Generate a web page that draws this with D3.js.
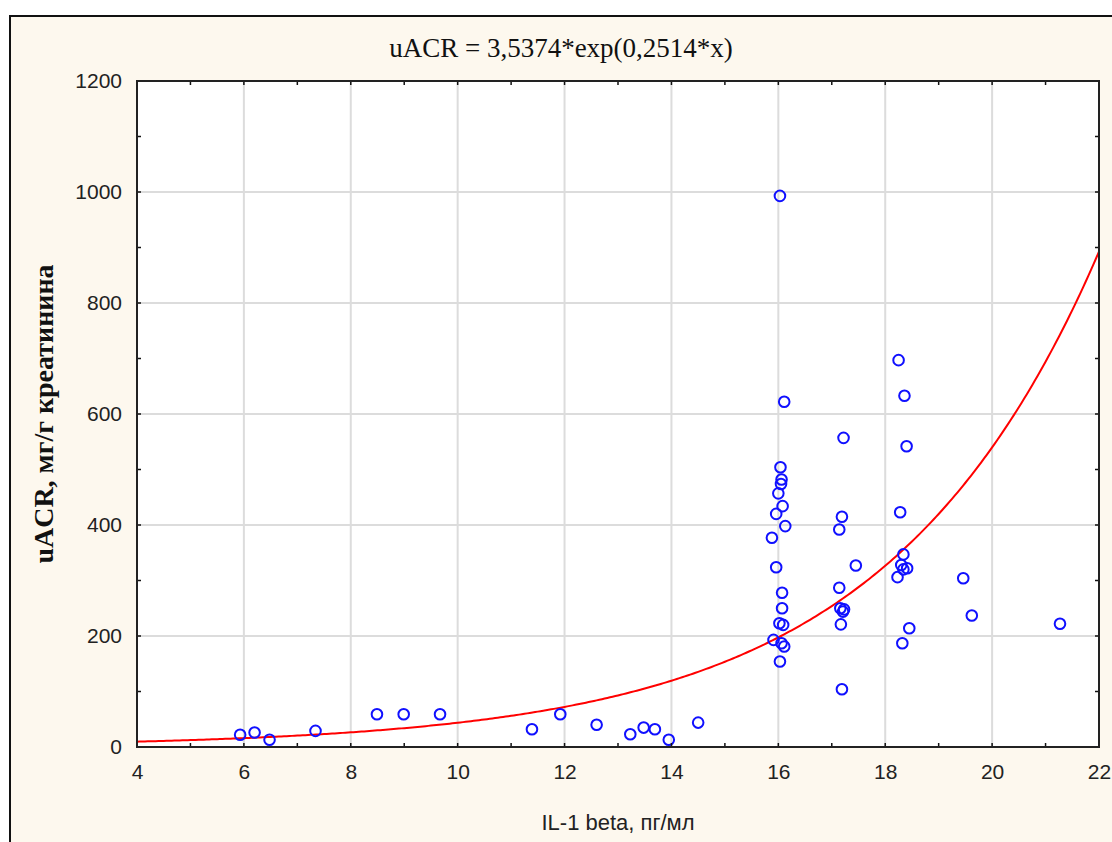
<!DOCTYPE html>
<html>
<head>
<meta charset="utf-8">
<script src="https://cdn.jsdelivr.net/npm/d3@7"></script>
<style>
  body { margin: 0; background: #fff; }
  svg { display: block; }
</style>
</head>
<body>
<div id="chart"></div>
<script>
// IL-1 beta (pg/ml) vs uACR (mg/g creatinine)
var il1beta = [5.93, 6.20, 6.48, 7.34, 8.49, 8.99, 9.67, 11.39, 11.92, 12.60, 13.23, 13.48, 13.69, 13.95, 14.50,
  15.88, 15.91, 15.96, 15.96, 16.00, 16.02, 16.03, 16.03, 16.04, 16.05, 16.06, 16.06, 16.07, 16.07, 16.08,
  16.09, 16.11, 16.11, 16.13, 17.14, 17.14, 17.16, 17.17, 17.19, 17.19, 17.21, 17.23, 17.22, 17.45,
  18.23, 18.25, 18.28, 18.30, 18.32, 18.34, 18.34, 18.36, 18.40, 18.41, 18.45, 19.46, 19.62, 21.27];
var uacr = [22, 26, 13, 29, 59, 59, 59, 32, 59, 40, 23, 35, 32, 13, 44,
  377, 193, 324, 420, 457, 223, 154, 993, 504, 474, 482, 187, 278, 250, 434,
  220, 181, 622, 398, 392, 287, 250, 221, 415, 104, 244, 248, 557, 327,
  306, 697, 423, 328, 187, 320, 347, 633, 542, 322, 214, 304, 237, 222];

// fitted model from the title: uACR = a*exp(b*x)
var fitA = 3.5374, fitB = 0.2514;
var titleText = "uACR = 3,5374*exp(0,2514*x)";
var xLabel = "IL-1 beta, пг/мл";
var yLabel = "uACR, мг/г креатинина";
var xMajor = [4, 6, 8, 10, 12, 14, 16, 18, 20, 22];
var yMajor = [0, 200, 400, 600, 800, 1000, 1200];

var W = 1112, H = 842;
var margin = {top: 81, right: 13, bottom: 95, left: 137};
var width = W - margin.left - margin.right,
    height = H - margin.top - margin.bottom;

var svg = d3.select("#chart").append("svg")
    .attr("width", W)
    .attr("height", H);

// cream panel with black frame
svg.append("rect")
    .attr("x", 10).attr("y", 16)
    .attr("width", W + 20).attr("height", H + 20)
    .attr("fill", "#fdf8ee")
    .attr("stroke", "#111")
    .attr("stroke-width", 2);

var g = svg.append("g")
    .attr("transform", "translate(" + margin.left + "," + margin.top + ")");

var x = d3.scaleLinear().domain([4, 22]).range([0, width]);
var y = d3.scaleLinear().domain([0, 1200]).range([height, 0]);

g.append("rect")
    .attr("width", width).attr("height", height)
    .attr("fill", "#fff");

// grid
g.append("g").selectAll("line")
  .data(xMajor.slice(1, -1))
  .enter().append("line")
    .attr("x1", function(d) { return x(d); })
    .attr("x2", function(d) { return x(d); })
    .attr("y1", 0).attr("y2", height)
    .attr("stroke", "#dcdcdc").attr("stroke-width", 2);
g.append("g").selectAll("line")
  .data(yMajor.slice(1, -1))
  .enter().append("line")
    .attr("y1", function(d) { return y(d); })
    .attr("y2", function(d) { return y(d); })
    .attr("x1", 0).attr("x2", width)
    .attr("stroke", "#dcdcdc").attr("stroke-width", 2);

// fitted curve
var fitX = d3.range(4, 22.001, 0.05);
var line = d3.line()
    .x(function(d) { return x(d); })
    .y(function(d) { return y(fitA * Math.exp(fitB * d)); });
g.append("path")
    .datum(fitX)
    .attr("d", line)
    .attr("fill", "none")
    .attr("stroke", "#ff0000")
    .attr("stroke-width", 2);

// points
g.append("g").selectAll("circle")
  .data(il1beta.map(function(v, i) { return {x: v, y: uacr[i]}; }))
  .enter().append("circle")
    .attr("cx", function(d) { return x(d.x); })
    .attr("cy", function(d) { return y(d.y); })
    .attr("r", 5.3)
    .attr("fill", "none")
    .attr("stroke", "#1010ff")
    .attr("stroke-width", 2);

// inward ticks on all four sides
var xTicks = d3.range(4, 23, 1), yTicks = d3.range(0, 1201, 100);
var tk = 4;
var ticks = g.append("g").attr("stroke", "#111").attr("stroke-width", 1.5);
xTicks.forEach(function(v) {
  ticks.append("line").attr("x1", x(v)).attr("x2", x(v)).attr("y1", height).attr("y2", height - tk);
  ticks.append("line").attr("x1", x(v)).attr("x2", x(v)).attr("y1", 0).attr("y2", tk);
});
yTicks.forEach(function(v) {
  ticks.append("line").attr("y1", y(v)).attr("y2", y(v)).attr("x1", 0).attr("x2", tk);
  ticks.append("line").attr("y1", y(v)).attr("y2", y(v)).attr("x1", width).attr("x2", width - tk);
});

// plot border
g.append("rect")
    .attr("width", width).attr("height", height)
    .attr("fill", "none")
    .attr("stroke", "#222")
    .attr("stroke-width", 2);

// axis labels via d3 axes (ticks hidden, labels only)
var xAxis = g.append("g")
    .attr("transform", "translate(0," + height + ")")
    .call(d3.axisBottom(x).tickValues(xMajor).tickFormat(d3.format("d")).tickSize(0).tickPadding(17));
var yAxis = g.append("g")
    .call(d3.axisLeft(y).tickValues(yMajor).tickFormat(d3.format("d")).tickSize(0).tickPadding(15));
[xAxis, yAxis].forEach(function(a) {
  a.select(".domain").remove();
  a.selectAll("text")
    .attr("font-family", "Arial, 'Liberation Sans', sans-serif")
    .attr("font-size", 21)
    .attr("fill", "#222");
});

svg.append("text")
    .attr("x", 561).attr("y", 57)
    .attr("text-anchor", "middle")
    .attr("font-family", "'Times New Roman', 'Liberation Serif', serif")
    .attr("font-size", 27)
    .attr("fill", "#111")
    .text(titleText);

svg.append("text")
    .attr("x", margin.left + width / 2).attr("y", 830)
    .attr("text-anchor", "middle")
    .attr("font-family", "Arial, 'Liberation Sans', sans-serif")
    .attr("font-size", 22)
    .attr("fill", "#222")
    .text(xLabel);

svg.append("text")
    .attr("transform", "translate(53," + 414 + ") rotate(-90)")
    .attr("text-anchor", "middle")
    .attr("font-family", "'Times New Roman', 'Liberation Serif', serif")
    .attr("font-weight", "bold")
    .attr("font-size", 28)
    .attr("fill", "#111")
    .text(yLabel);
</script>
</body>
</html>
